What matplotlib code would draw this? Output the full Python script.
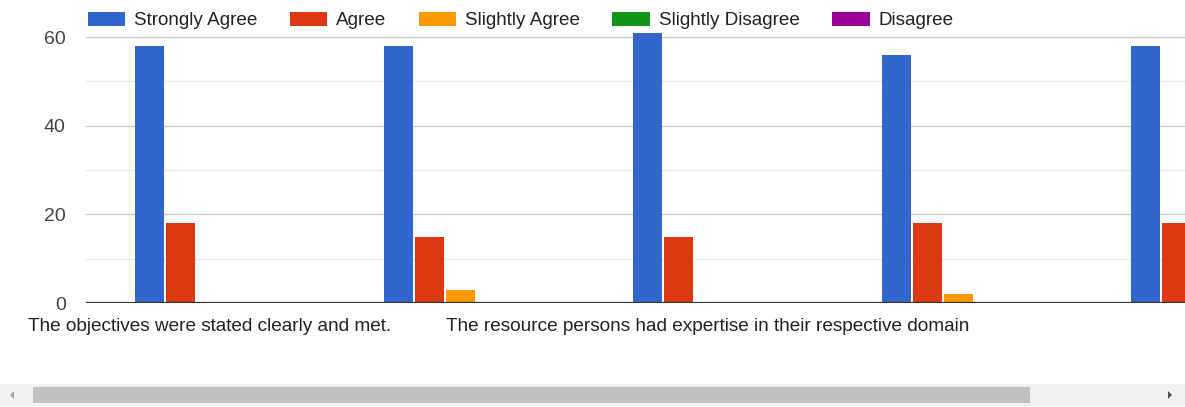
import numpy as np
import matplotlib.pyplot as plt
from matplotlib.patches import Rectangle, Polygon

plt.rcParams['font.family'] = ['Liberation Sans', 'DejaVu Sans']

# responses per statement (only the visible part of the scrolled chart)
series = ['Strongly Agree', 'Agree', 'Slightly Agree', 'Slightly Disagree', 'Disagree']
colors = ['#3366cc', '#dc3912', '#ff9900', '#109618', '#990099']
strongly_agree = [58, 58, 61, 56, 58]
agree = [18, 15, 15, 18, 18]
slightly_agree = [0, 3, 0, 2, 0]
slightly_disagree = [0, 0, 0, 0, 0]
disagree = [0, 0, 0, 0, 0]
values = [strongly_agree, agree, slightly_agree, slightly_disagree, disagree]
# Google only shows every other label when they would overlap
xlabels = ['The objectives were stated clearly and met.', '',
           'The resource persons had expertise in their respective domain', '', '']

W, H = 1185, 407
fig = plt.figure(figsize=(W / 100, H / 100), dpi=100)
ax = fig.add_axes([86 / W, (H - 303) / H, 1 - 86 / W, 61.5 * 4.433 / H])

x = np.arange(len(strongly_agree))
step = 0.1235
width = 0.116
for i, (name, vals) in enumerate(zip(series, values)):
    ax.bar(x - 0.3 + i * step, vals, width, align='edge',
           color=colors[i], label=name, linewidth=0, zorder=3)

ax.set_yticks([0, 20, 40, 60])
ax.set_yticks([10, 30, 50], minor=True)
ax.grid(axis='y', which='major', color='#cccccc', linewidth=1, zorder=0)
ax.grid(axis='y', which='minor', color='#ebebeb', linewidth=1, zorder=0)
ax.axhline(0, color='#333333', linewidth=1.6, zorder=4)
ax.tick_params(axis='y', which='both', length=0, pad=14.5, labelsize=14, labelcolor='#444444')

ax.set_xticks(x, xlabels)
ax.tick_params(axis='x', length=0, pad=11, labelsize=13.7, labelcolor='#222222')

ax.set_xlim(-(210 - 86) / 249, (1185 - 210) / 249)
ax.set_ylim(0, 61.5)

for s in ax.spines.values():
    s.set_visible(False)

fig.legend(loc='upper left', bbox_to_anchor=(80 / W, 1 - 4 / H), ncol=5, frameon=False,
           fontsize=13.6, handlelength=2.0, handleheight=0.8, handletextpad=0.45,
           columnspacing=1.72, labelcolor='#222222', borderaxespad=0)

# horizontal scrollbar under the chart
px = lambda v: v / W
py = lambda v: (H - v) / H
fig.add_artist(Rectangle((0, py(406)), 1, (406 - 384) / H, transform=fig.transFigure,
                         facecolor='#f1f1f1', edgecolor='none'))
fig.add_artist(Rectangle((px(33), py(403)), (1030 - 33) / W, (403 - 387) / H,
                         transform=fig.transFigure, facecolor='#c1c1c1', edgecolor='none'))
fig.add_artist(Polygon([(px(14), py(391)), (px(14), py(399)), (px(10), py(395))],
                       transform=fig.transFigure, facecolor='#a3a3a3', edgecolor='none'))
fig.add_artist(Polygon([(px(1168), py(391)), (px(1168), py(399)), (px(1172), py(395))],
                       transform=fig.transFigure, facecolor='#505050', edgecolor='none'))

fig.savefig('out.png', dpi=100, facecolor='white')
